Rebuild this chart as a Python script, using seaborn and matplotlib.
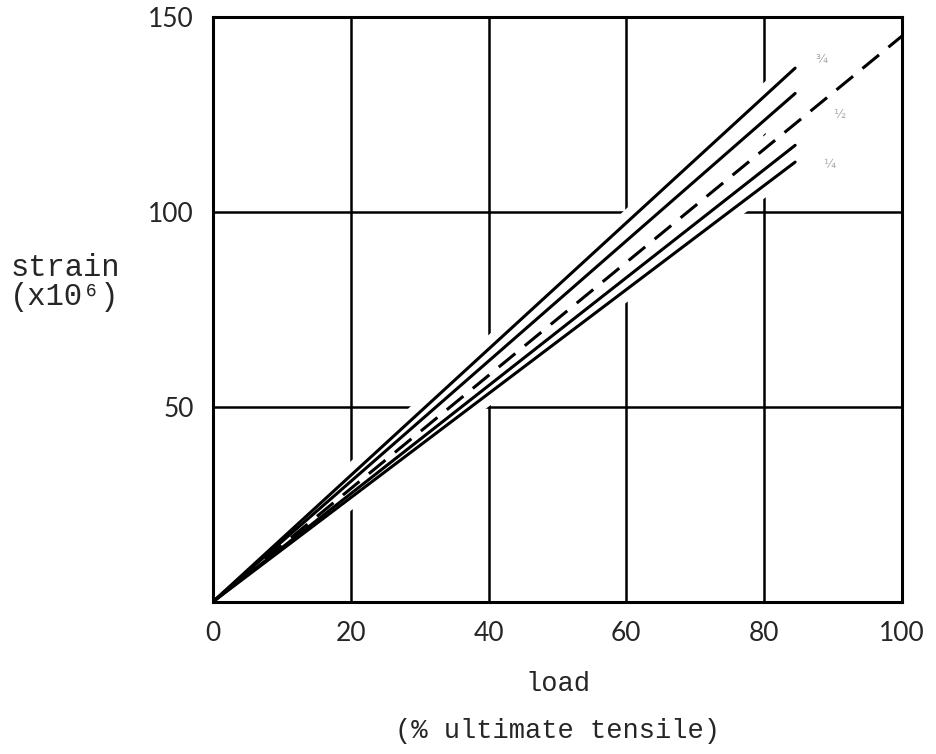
import matplotlib
matplotlib.use('Agg')
import matplotlib.pyplot as plt
import seaborn as sns
import pandas as pd

# data: load (% ultimate tensile) vs strain (x10^6)
load_short = [0, 84.5]
load_long = [0, 100]
strain_top = [0, 136.8]
strain_upper = [0, 130.3]
strain_mean = [0, 145.0]
strain_lower = [0, 117.0]
strain_bottom = [0, 112.7]
end_marks = ['¾', '½', '¼']
end_mark_x = [87.5, 90.0, 88.5]
end_mark_y = [139.0, 125.0, 112.0]

x_ticks = [0, 20, 40, 60, 80, 100]
y_ticks = [50, 100, 150]

sns.set_style('white')
plt.rcParams['font.family'] = ['Liberation Mono', 'DejaVu Sans Mono']

series = [
    (load_short, strain_top, '-'),
    (load_short, strain_upper, '-'),
    (load_long, strain_mean, '--'),
    (load_short, strain_lower, '-'),
    (load_short, strain_bottom, '-'),
]

fig = plt.figure(figsize=(9.36, 7.54), dpi=100)
ax = fig.add_axes([0.2276, 0.202, 0.736, 0.776])

# white halo under the lines breaks the grid, like the drawing
for xs, ys, ls in series:
    df = pd.DataFrame({'load': xs, 'strain': ys})
    sns.lineplot(data=df, x='load', y='strain', ax=ax, color='white',
                 linewidth=15, solid_capstyle='butt', zorder=1)

for xs, ys, ls in series:
    df = pd.DataFrame({'load': xs, 'strain': ys})
    sns.lineplot(data=df, x='load', y='strain', ax=ax, color='black',
                 linewidth=2.2, zorder=3)
    if ls == '--':
        ax.lines[-1].set_dashes([7, 4])

for t, x, y in zip(end_marks, end_mark_x, end_mark_y):
    ax.text(x, y, t, fontsize=9, color='#aaaaaa', ha='left', va='center',
            family=['DejaVu Sans'])

ax.set_xlim(0, 100)
ax.set_ylim(0, 150)
ax.set_xticks(x_ticks)
ax.set_yticks(y_ticks)
ax.set_xticklabels([str(v) for v in x_ticks], family=['Lato', 'DejaVu Sans'], fontsize=19)
ax.set_yticklabels([str(v) for v in y_ticks], family=['Lato', 'DejaVu Sans'], fontsize=19)
ax.tick_params(axis='x', length=0, pad=14)
ax.tick_params(axis='y', length=0, pad=14)

ax.set_axisbelow(True)
ax.grid(True, color='black', linewidth=1.8)
for sp in ax.spines.values():
    sp.set_color('black')
    sp.set_linewidth(2.2)
    sp.set_visible(True)

ax.set_xlabel('load\n\n(% ultimate tensile)', fontsize=19.5, labelpad=18,
              linespacing=0.87)
ax.set_ylabel('')
fig.text(0.011, 0.625, 'strain\n(x10⁶)', fontsize=22, ha='left', va='center',
         linespacing=0.95)

fig.savefig('out.png', dpi=100, facecolor='white')
